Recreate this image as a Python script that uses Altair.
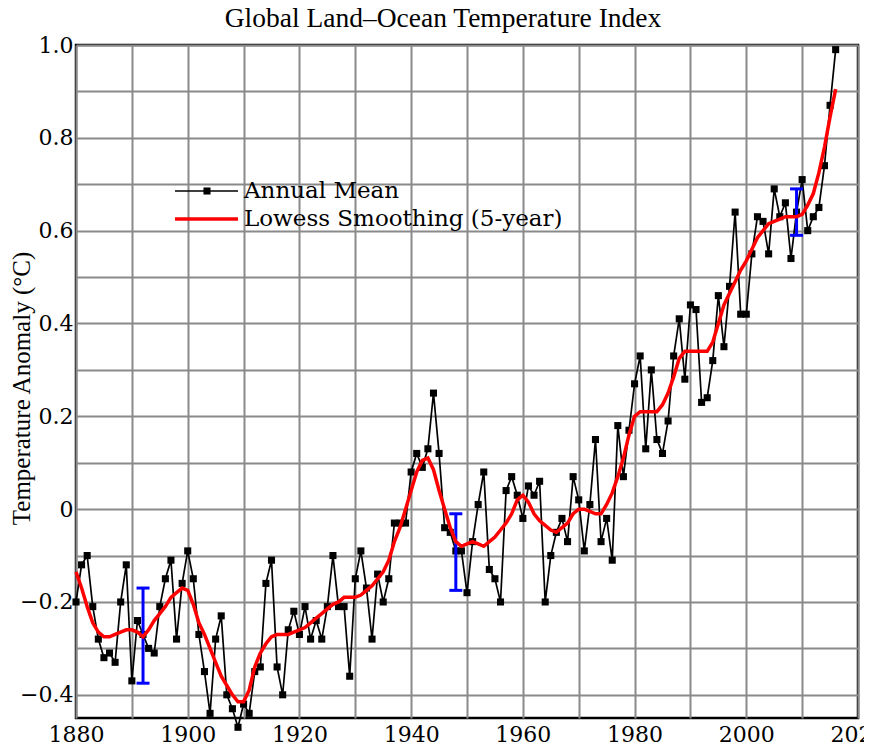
import altair as alt
import pandas as pd

years = list(range(1880, 2017))

annual_mean = [
    -0.20, -0.12, -0.10, -0.21, -0.28, -0.32, -0.31, -0.33, -0.20, -0.12,
    -0.37, -0.24, -0.27, -0.30, -0.31, -0.21, -0.15, -0.11, -0.28, -0.16,
    -0.09, -0.15, -0.27, -0.35, -0.44, -0.28, -0.23, -0.40, -0.43, -0.47,
    -0.42, -0.44, -0.35, -0.34, -0.16, -0.11, -0.34, -0.40, -0.26, -0.22,
    -0.27, -0.21, -0.28, -0.24, -0.28, -0.21, -0.10, -0.21, -0.21, -0.36,
    -0.15, -0.09, -0.17, -0.28, -0.14, -0.20, -0.15, -0.03, -0.03, -0.03,
    0.08, 0.12, 0.09, 0.13, 0.25, 0.12, -0.04, -0.05, -0.09, -0.09,
    -0.18, -0.07, 0.01, 0.08, -0.13, -0.15, -0.20, 0.04, 0.07, 0.03,
    -0.02, 0.05, 0.03, 0.06, -0.20, -0.10, -0.05, -0.02, -0.07, 0.07,
    0.02, -0.09, 0.01, 0.15, -0.07, -0.02, -0.11, 0.18, 0.07, 0.17,
    0.27, 0.33, 0.13, 0.30, 0.15, 0.12, 0.19, 0.33, 0.41, 0.28,
    0.44, 0.43, 0.23, 0.24, 0.32, 0.46, 0.35, 0.48, 0.64, 0.42,
    0.42, 0.55, 0.63, 0.62, 0.55, 0.69, 0.63, 0.66, 0.54, 0.64,
    0.71, 0.60, 0.63, 0.65, 0.74, 0.87, 0.99,
]

lowess = [
    -0.135, -0.17, -0.21, -0.245, -0.265, -0.275, -0.275, -0.27, -0.265, -0.26,
    -0.26, -0.265, -0.275, -0.26, -0.24, -0.225, -0.21, -0.19, -0.18, -0.17,
    -0.175, -0.205, -0.245, -0.27, -0.30, -0.33, -0.36, -0.38, -0.40, -0.415,
    -0.415, -0.39, -0.34, -0.31, -0.29, -0.275, -0.27, -0.27, -0.27, -0.265,
    -0.26, -0.255, -0.245, -0.235, -0.225, -0.215, -0.205, -0.20, -0.19, -0.19,
    -0.19, -0.185, -0.175, -0.165, -0.15, -0.135, -0.11, -0.07, -0.04, 0.00,
    0.04, 0.08, 0.105, 0.11, 0.085, 0.04, 0.00, -0.04, -0.07, -0.08,
    -0.075, -0.07, -0.075, -0.08, -0.07, -0.06, -0.045, -0.03, -0.01, 0.02,
    0.03, 0.015, -0.01, -0.025, -0.035, -0.045, -0.05, -0.04, -0.03, -0.01,
    0.00, 0.00, -0.005, -0.01, -0.01, 0.01, 0.035, 0.07, 0.11, 0.16,
    0.20, 0.21, 0.21, 0.21, 0.21, 0.225, 0.25, 0.285, 0.325, 0.34,
    0.34, 0.34, 0.34, 0.34, 0.36, 0.40, 0.44, 0.465, 0.49, 0.515,
    0.535, 0.56, 0.585, 0.60, 0.615, 0.62, 0.625, 0.63, 0.63, 0.63,
    0.635, 0.655, 0.68, 0.725, 0.78, 0.845, 0.905,
]

err_years = [1892, 1948, 2009]
err_low = [-0.375, -0.175, 0.59]
err_high = [-0.17, -0.01, 0.69]

legend_labels = ["Annual Mean", "Lowess Smoothing (5-year)"]

df = pd.DataFrame({"year": years, "mean": annual_mean, "lowess": lowess})
err = pd.DataFrame({"year": err_years, "lo": err_low, "hi": err_high})

x_scale = alt.Scale(domain=[1880, 2020], nice=False, zero=False)
y_scale = alt.Scale(domain=[-0.45, 1.0], nice=False, zero=False)

x_axis = alt.Axis(
    values=list(range(1880, 2021, 10)),
    labelExpr="datum.value % 20 == 0 ? datum.label : ''",
    format="d",
    title=None,
    ticks=False,
    domain=False,
    grid=True,
    gridColor="#8a8a8a",
    gridWidth=2,
    labelFont="DejaVu Serif",
    labelFontSize=22,
    labelColor="#000000",
    labelPadding=6,
    labelOverlap=False,
    labelFlush=False,
)

y_axis = alt.Axis(
    values=[round(-0.4 + 0.1 * i, 1) for i in range(15)],
    labelExpr=(
        "abs(round(datum.value*10)) % 2 == 1 ? '' : "
        "(abs(datum.value) < 1e-6 ? '0' : replace(format(datum.value, '.1f'), '-', '\u2212'))"
    ),
    title="Temperature Anomaly (\u00b0C)",
    titleFont="Liberation Serif",
    titleFontSize=25,
    titleFontWeight="normal",
    titleColor="#000000",
    titleAngle=270,
    titleAlign="center",
    titleBaseline="middle",
    titleX=-55,
    titleY=343,
    ticks=False,
    domain=False,
    grid=True,
    gridColor="#8a8a8a",
    gridWidth=2,
    labelFont="DejaVu Serif",
    labelFontSize=22,
    labelColor="#000000",
    labelPadding=3,
    labelOverlap=False,
    labelFlush=False,
)

base = alt.Chart(df)

mean_line = base.mark_line(color="#000000", strokeWidth=1.7).encode(
    x=alt.X("year:Q", scale=x_scale, axis=x_axis),
    y=alt.Y("mean:Q", scale=y_scale, axis=y_axis),
)
mean_pts = base.mark_point(shape="square", filled=True, color="#000000", size=50, opacity=1).encode(
    x="year:Q", y="mean:Q"
)

err_rule = alt.Chart(err).mark_rule(color="#0000ff", strokeWidth=3).encode(
    x="year:Q", y="lo:Q", y2="hi:Q"
)
err_cap_lo = alt.Chart(err).mark_tick(color="#0000ff", thickness=3, size=13, orient="horizontal", opacity=1).encode(
    x="year:Q", y="lo:Q"
)
err_cap_hi = alt.Chart(err).mark_tick(color="#0000ff", thickness=3, size=13, orient="horizontal", opacity=1).encode(
    x="year:Q", y="hi:Q"
)

lowess_line = base.mark_line(color="#ff0000", strokeWidth=3.5).encode(
    x="year:Q", y="lowess:Q"
)

leg_df = pd.DataFrame({"label": legend_labels, "row": [0, 1]})
leg_black = alt.Chart(leg_df).transform_filter("datum.row == 0").mark_rule(
    color="#000000", strokeWidth=1.7
).encode(x=alt.value(99), x2=alt.value(162), y=alt.value(146))
leg_sq = alt.Chart(leg_df).transform_filter("datum.row == 0").mark_point(
    shape="square", filled=True, color="#000000", size=50, opacity=1
).encode(x=alt.value(131), y=alt.value(146))
leg_red = alt.Chart(leg_df).transform_filter("datum.row == 1").mark_rule(
    color="#ff0000", strokeWidth=3.5
).encode(x=alt.value(99), x2=alt.value(162), y=alt.value(174))
leg_text0 = alt.Chart(leg_df).transform_filter("datum.row == 0").mark_text(
    align="left", baseline="middle", font="DejaVu Serif", fontSize=23, color="#000000"
).encode(x=alt.value(168), y=alt.value(146), text="label:N")
leg_text1 = alt.Chart(leg_df).transform_filter("datum.row == 1").mark_text(
    align="left", baseline="middle", font="DejaVu Serif", fontSize=23, color="#000000"
).encode(x=alt.value(168), y=alt.value(174), text="label:N")

chart = alt.layer(
    mean_line, mean_pts, err_rule, err_cap_lo, err_cap_hi, lowess_line,
    leg_black, leg_sq, leg_red, leg_text0, leg_text1,
).properties(
    width=782,
    height=673,
    title=alt.TitleParams(
        "Global Land\u2013Ocean Temperature Index",
        font="Liberation Serif",
        fontSize=27.5,
        fontWeight="normal",
        color="#000000",
        anchor="middle",
        dx=-24,
        offset=2,
    ),
    autosize=alt.AutoSizeParams(type="none"),
    padding={"left": 68, "top": 37, "right": 6, "bottom": 29},
    background="#ffffff",
).configure_view(
    stroke="#000000", strokeWidth=2.5
)

chart.save("out.html", embed_options={"renderer": "svg", "actions": False})
